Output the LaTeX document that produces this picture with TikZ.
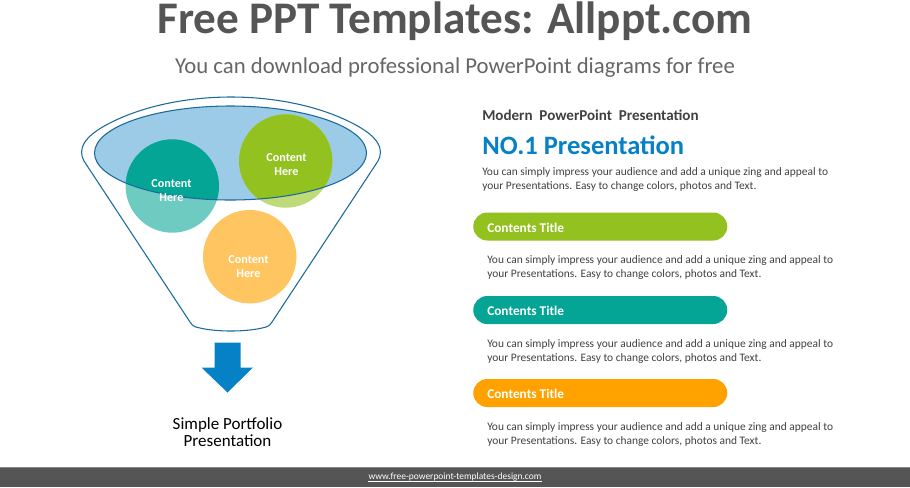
\documentclass[tikz,border=0pt]{standalone}
\usepackage{fontspec}
\setmainfont{Carlito}
\definecolor{tealc}{HTML}{05A596}
\definecolor{greenc}{HTML}{93C120}
\definecolor{orangec}{HTML}{FFA200}
\definecolor{bluec}{HTML}{0681C6}
\definecolor{ellc}{HTML}{9CCBE8}
\definecolor{linec}{HTML}{1B6A9A}
\definecolor{greyt}{HTML}{404040}
\definecolor{footc}{HTML}{555555}
\tikzset{
  x=0.75pt,y=-0.75pt,
  body/.style={anchor=west,inner sep=0,align=left,text=greyt,font=\fontsize{8.57pt}{10.5pt}\selectfont},
  pill/.style={rounded corners=10.5pt,minimum width=190.5pt,minimum height=21pt,inner sep=0,anchor=west},
  pilltext/.style={anchor=west,inner sep=0,text=white,font=\bfseries\fontsize{10pt}{11pt}\selectfont},
  circtext/.style={align=center,inner sep=0,text=white,font=\bfseries\fontsize{9.1pt}{10.5pt}\selectfont}
}
\begin{document}
\begin{tikzpicture}
\useasboundingbox (0,0) rectangle (910,487);
\fill[white] (0,0) rectangle (910,487);
% header
\node[anchor=base,inner sep=0,text=footc,font=\bfseries\fontsize{33.9pt}{36pt}\selectfont] (title) at (455,33) {Free PPT Templates: Allppt.com};
\node[inner sep=0,text=footc!90!white,font=\fontsize{17.05pt}{20pt}\selectfont] (sub) at (455,67.5) {You can download professional PowerPoint diagrams for free};
% funnel
\draw[linec,line width=0.8pt] (84,161) .. controls (78,150) and (82,137) .. (110,123)
  .. controls (145,105) and (190,97) .. (231,97)
  .. controls (272,97) and (317,105) .. (352,123)
  .. controls (380,137) and (384,150) .. (378,161)
  -- (272,322) .. controls (269,327) and (266,327) .. (262,328)
  .. controls (245,332) and (217,332) .. (200,328)
  .. controls (196,327) and (193,327) .. (190,322) -- cycle;
\fill[ellc] (230.5,153) ellipse [x radius=136,y radius=47];
\fill[tealc!58!white] (172.3,186) circle [radius=46.7];
\fill[greenc!60!white] (285.7,161) circle [radius=46.7];
\begin{scope}
  \clip (230.5,153) ellipse [x radius=136,y radius=47];
  \fill[tealc] (172.3,186) circle [radius=46.7];
  \fill[greenc] (285.7,161) circle [radius=46.7];
\end{scope}
\draw[linec,line width=0.8pt] (230.5,153) ellipse [x radius=136,y radius=47];
\fill[orangec!62!white] (249.7,256.7) circle [radius=46.7];
\node[circtext] (c1) at (171.5,190.5) {Content\\Here};
\node[circtext] (c2) at (286.5,164.5) {Content\\Here};
\node[circtext] (c3) at (248.5,266.5) {Content\\Here};
% arrow
\fill[bluec] (214.5,342.5) -- (240.5,342.5) -- (240.5,367.5) -- (253,367.5) -- (227.5,392.5) -- (201.5,367.5) -- (214.5,367.5) -- cycle;
\node[align=center,inner sep=0,text=black,font=\fontsize{12.75pt}{12.6pt}\selectfont] (cap) at (227.5,432.5) {Simple Portfolio\\Presentation};
% right column
\node[anchor=west,inner sep=0,text=greyt,font=\bfseries\fontsize{11.3pt}{12pt}\selectfont] (mod) at (482,115.5) {Modern\ \ PowerPoint\ \ Presentation};
\node[anchor=west,inner sep=0,text=bluec,font=\bfseries\fontsize{19.9pt}{22pt}\selectfont] (no1) at (482,145) {NO.1 Presentation};
\node[body] (d0) at (482,179.5) {You can simply impress your audience and add a unique zing and appeal to\\your Presentations. Easy to change colors, photos and Text.};
\node[pill,fill=greenc] (p1) at (473,226.5) {};
\node[pilltext] (t1) at (487,227.5) {Contents Title};
\node[body] (d1) at (487,268) {You can simply impress your audience and add a unique zing and appeal to\\your Presentations. Easy to change colors, photos and Text.};
\node[pill,fill=tealc] (p2) at (473,310) {};
\node[pilltext] (t2) at (487,311) {Contents Title};
\node[body] (d2) at (487,351.5) {You can simply impress your audience and add a unique zing and appeal to\\your Presentations. Easy to change colors, photos and Text.};
\node[pill,fill=orangec] (p3) at (473,393) {};
\node[pilltext] (t3) at (487,394) {Contents Title};
\node[body] (d3) at (487,434.5) {You can simply impress your audience and add a unique zing and appeal to\\your Presentations. Easy to change colors, photos and Text.};
% footer
\fill[footc] (0,467) rectangle (910,487);
\draw[footc!70!white,line width=0.6pt] (0,467) -- (910,467);
\node[inner sep=0,text=white,font=\fontsize{7.1pt}{9pt}\selectfont] (foot) at (455,477.5) {www.free-powerpoint-templates-design.com};
\draw[white,line width=0.45pt] ([yshift=-0.9pt]foot.base west) -- ([yshift=-0.9pt]foot.base east);
\end{tikzpicture}
\end{document}
